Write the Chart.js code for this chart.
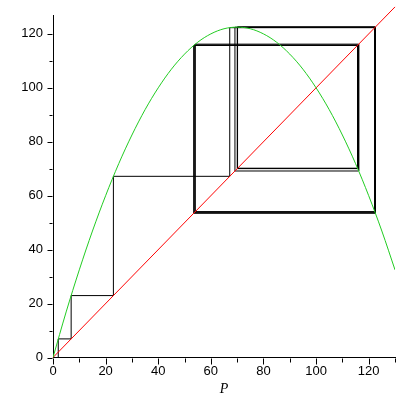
<!DOCTYPE html>
<html>
<head>
<meta charset="utf-8">
<script src="https://cdn.jsdelivr.net/npm/chart.js@4/dist/chart.umd.min.js"></script>
<style>
  html, body { margin: 0; padding: 0; background: #fff; }
  #wrap { width: 400px; height: 400px; }
</style>
</head>
<body>
<div id="wrap"><canvas id="cobweb"></canvas></div>
<script>
// Green curve
const curveP = [0, 5, 10, 15, 20, 25, 30, 35, 40, 45, 50, 55, 60, 65, 70,
                75, 80, 85, 90, 95, 100, 105, 110, 115, 120, 125, 130];
const curveF = [0, 16.9, 32.5, 46.9, 60, 71.9, 82.5, 91.9, 100, 106.9, 112.5, 116.9, 120, 121.9, 122.5,
                121.9, 120, 116.9, 112.5, 106.9, 100, 91.9, 82.5, 71.9, 60, 46.9, 32.5];

// Red diagonal
const diagP = [0, 130];

// Cobweb iterates (start, then each step)
const iterates = [2, 6.9, 22.96, 67.18, 122.3, 54.11, 116.19, 69.16, 122.48, 53.64, 115.81,
                  70.04, 122.5, 53.59, 115.77, 70.13, 122.5, 53.59, 115.76, 70.15, 122.5];

const xTicks = [0, 20, 40, 60, 80, 100, 120];
const yTicks = [0, 20, 40, 60, 80, 100, 120];
const xMinor = [10, 30, 50, 70, 90, 110, 130];
const yMinor = [10, 30, 50, 70, 90, 110];

// Build cobweb path from iterates
const cobPath = [{ x: iterates[0], y: 0 }];
for (let i = 0; i < iterates.length - 1; i++) {
    cobPath.push({ x: iterates[i], y: iterates[i + 1] });
    cobPath.push({ x: iterates[i + 1], y: iterates[i + 1] });
}

const FONT = '"Liberation Sans", Arial, sans-serif';

// Draw major and minor tick marks on both axes
const tickMarks = {
    id: 'tickMarks',
    afterDraw(chart) {
        const ctx = chart.ctx;
        const xs = chart.scales.x;
        const ys = chart.scales.y;
        const x0 = Math.round(xs.left) - 0.5;
        const y0 = Math.round(ys.bottom) + 0.5;
        ctx.save();
        ctx.strokeStyle = '#000';
        ctx.lineWidth = 1;
        ctx.beginPath();
        xTicks.concat(xMinor).forEach(v => {
            const px = Math.round(xs.getPixelForValue(v)) + 0.5;
            const len = xTicks.includes(v) ? 6 : 4;
            ctx.moveTo(px, y0);
            ctx.lineTo(px, y0 + len);
        });
        yTicks.concat(yMinor).forEach(v => {
            const py = Math.round(ys.getPixelForValue(v)) + 0.5;
            const len = yTicks.includes(v) ? 5 : 3;
            ctx.moveTo(x0, py);
            ctx.lineTo(x0 - len, py);
        });
        ctx.stroke();
        ctx.restore();
    }
};

new Chart(document.getElementById('cobweb'), {
    type: 'scatter',
    data: {
        datasets: [
            {
                label: 'cobweb',
                data: cobPath,
                showLine: true,
                borderColor: '#000',
                borderWidth: 1,
                pointRadius: 0,
                tension: 0,
                order: 3
            },
            {
                label: 'diagonal',
                data: diagP.map(v => ({ x: v, y: v })),
                showLine: true,
                borderColor: '#ff0000',
                borderWidth: 1,
                pointRadius: 0,
                clip: false,
                order: 2
            },
            {
                label: 'f(P)',
                data: curveP.map((p, i) => ({ x: p, y: curveF[i] })),
                showLine: true,
                borderColor: '#22cc22',
                borderWidth: 1,
                pointRadius: 0,
                cubicInterpolationMode: 'monotone',
                order: 1
            }
        ]
    },
    options: {
        responsive: true,
        maintainAspectRatio: false,
        animation: false,
        events: [],
        layout: { padding: { top: 15, right: 5, left: 0, bottom: 0 } },
        plugins: {
            legend: { display: false },
            tooltip: { enabled: false }
        },
        scales: {
            x: {
                type: 'linear',
                min: 0,
                max: 130,
                grid: { display: false, drawTicks: false },
                border: { display: true, color: '#000', width: 1 },
                afterBuildTicks: scale => { scale.ticks = xTicks.map(v => ({ value: v })); },
                afterFit: scale => {
                    scale.height = 42.5;
                    scale.paddingLeft = 0;
                    scale.paddingRight = 0;
                },
                ticks: { color: '#000', padding: 6, font: { family: FONT, size: 13 }, maxRotation: 0 },
                title: {
                    display: true,
                    text: 'P',
                    color: '#000',
                    font: { family: '"Liberation Serif", serif', size: 14, style: 'italic' },
                    padding: { top: 0, bottom: 2 }
                }
            },
            y: {
                type: 'linear',
                min: 0,
                max: 127,
                grid: { display: false, drawTicks: false },
                border: { display: true, color: '#000', width: 1 },
                afterBuildTicks: scale => { scale.ticks = yTicks.map(v => ({ value: v })); },
                afterFit: scale => {
                    scale.width = 53;
                    scale.paddingTop = 0;
                    scale.paddingBottom = 0;
                },
                ticks: { color: '#000', padding: 10, font: { family: FONT, size: 13 } }
            }
        }
    },
    plugins: [tickMarks]
});
</script>
</body>
</html>
